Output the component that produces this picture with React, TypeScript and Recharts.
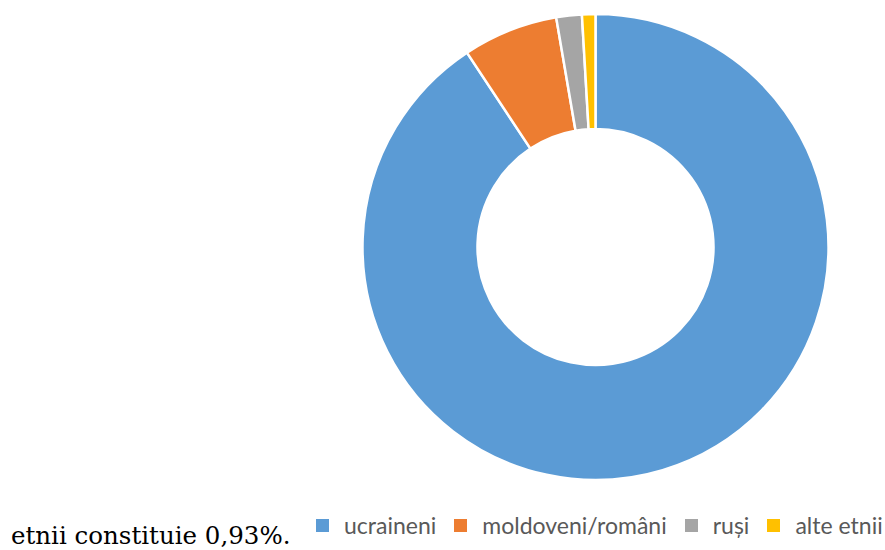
import React from "react";
import { PieChart, Pie, Cell, Legend } from "recharts";

const categories = ["ucraineni", "moldoveni/români", "ruși", "alte etnii"];
const values = [90.7, 6.6, 1.77, 0.93];
const colors = ["#5B9BD5", "#ED7D31", "#A5A5A5", "#FFC000"];

const data = categories.map((name, i) => ({ name, value: values[i] }));

const renderLegend = () => (
  <div
    style={{
      display: "flex",
      alignItems: "center",
      fontFamily: "Lato, 'Open Sans', sans-serif",
      fontSize: 23,
      color: "#595959",
      whiteSpace: "nowrap",
      lineHeight: "28px",
    }}
  >
    {categories.map((name, i) => (
      <div key={name} style={{ display: "flex", alignItems: "center", marginRight: 18 }}>
        <div style={{ width: 13, height: 13, background: colors[i], marginRight: 15 }} />
        <span>{name}</span>
      </div>
    ))}
  </div>
);

export default function App() {
  return (
    <div style={{ position: "absolute", left: 0, top: 0, width: 885, height: 550, background: "#fff", overflow: "hidden" }}>
      <PieChart width={885} height={550}>
        <Pie
          data={data}
          dataKey="value"
          nameKey="name"
          cx={590.5}
          cy={242}
          outerRadius={233}
          innerRadius={118}
          startAngle={90}
          endAngle={-270}
          stroke="#ffffff"
          strokeWidth={2.5}
          isAnimationActive={false}
        >
          {data.map((d, i) => (
            <Cell key={d.name} fill={colors[i]} />
          ))}
        </Pie>
        <Legend
          content={renderLegend}
          wrapperStyle={{ position: "absolute", left: 316, top: 511, width: 600 }}
        />
      </PieChart>
      <div
        style={{
          position: "absolute",
          left: 11,
          top: 521,
          fontFamily: "'DejaVu Serif', serif",
          fontSize: 24.5,
          color: "#000",
          whiteSpace: "nowrap",
          lineHeight: "30px",
        }}
      >
        etnii constituie 0,93%.
      </div>
    </div>
  );
}
